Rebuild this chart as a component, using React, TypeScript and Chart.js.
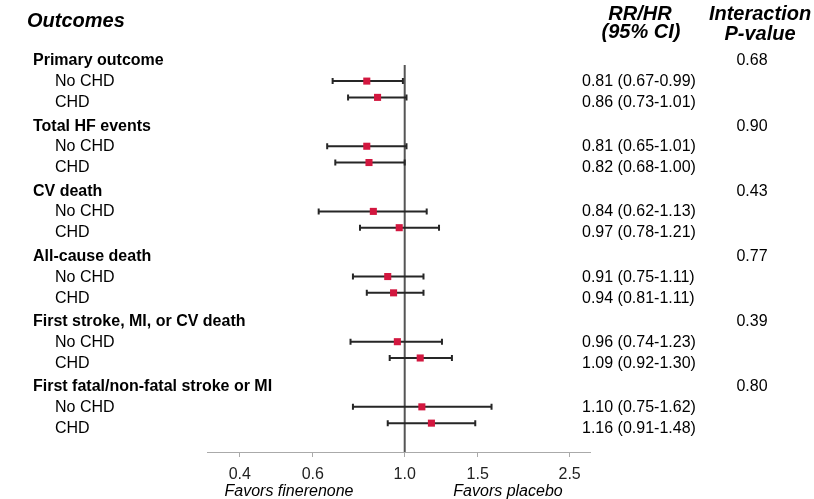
import React, { useEffect, useRef } from "react";
import { Chart, registerables } from "chart.js";

Chart.register(...registerables);

const groups = [
  "Primary outcome",
  "Total HF events",
  "CV death",
  "All-cause death",
  "First stroke, MI, or CV death",
  "First fatal/non-fatal stroke or MI",
];
const subgroups = ["No CHD", "CHD"];
const noChdRR = [0.81, 0.81, 0.84, 0.91, 0.96, 1.1];
const noChdLo = [0.67, 0.65, 0.62, 0.75, 0.74, 0.75];
const noChdHi = [0.99, 1.01, 1.13, 1.11, 1.23, 1.62];
const chdRR = [0.86, 0.82, 0.97, 0.94, 1.09, 1.16];
const chdLo = [0.73, 0.68, 0.78, 0.81, 0.92, 0.91];
const chdHi = [1.01, 1.0, 1.21, 1.11, 1.3, 1.48];
const pInteraction = ["0.68", "0.90", "0.43", "0.77", "0.39", "0.80"];
const xTicks = [0.4, 0.6, 1.0, 1.5, 2.5];

const FONT = "'Liberation Sans', Arial, sans-serif";
const RED = "#D2173F";

// layout offsets within a group (in group units)
const BAR_OFF = [0.307, 0.557];
const TXT_OFF = [0.317, 0.64];

const fmtCI = (rr: number, lo: number, hi: number) =>
  `${rr.toFixed(2)} (${lo.toFixed(2)}-${hi.toFixed(2)})`;

const series = [
  { rr: noChdRR, lo: noChdLo, hi: noChdHi },
  { rr: chdRR, lo: chdLo, hi: chdHi },
];

const forestPlugin = {
  id: "forest",
  beforeDatasetsDraw(chart: any) {
    const { ctx, chartArea, scales } = chart;
    const xs = scales.x;
    const ys = scales.y;
    ctx.save();
    // reference line at 1.0
    const x1 = xs.getPixelForValue(1);
    ctx.strokeStyle = "#555";
    ctx.lineWidth = 2;
    ctx.beginPath();
    ctx.moveTo(x1, chartArea.top);
    ctx.lineTo(x1, chartArea.bottom);
    ctx.stroke();
    // CI whiskers
    ctx.strokeStyle = "#262626";
    ctx.lineWidth = 2;
    series.forEach((s, si) => {
      groups.forEach((_, g) => {
        const y = ys.getPixelForValue(g + BAR_OFF[si]);
        const a = xs.getPixelForValue(s.lo[g]);
        const b = xs.getPixelForValue(s.hi[g]);
        ctx.beginPath();
        ctx.moveTo(a, y);
        ctx.lineTo(b, y);
        ctx.moveTo(a, y - 3);
        ctx.lineTo(a, y + 3);
        ctx.moveTo(b, y - 3);
        ctx.lineTo(b, y + 3);
        ctx.stroke();
      });
    });
    ctx.restore();
  },
  afterDraw(chart: any) {
    const { ctx, scales } = chart;
    const ys = scales.y;
    ctx.save();
    ctx.fillStyle = "#000";
    ctx.textBaseline = "middle";
    groups.forEach((name, g) => {
      const yh = ys.getPixelForValue(g);
      ctx.font = `bold 16px ${FONT}`;
      ctx.textAlign = "left";
      ctx.fillText(name, 33, yh);
      ctx.font = `16px ${FONT}`;
      ctx.textAlign = "center";
      ctx.fillText(pInteraction[g], 752, yh);
      subgroups.forEach((sg, si) => {
        const yt = ys.getPixelForValue(g + TXT_OFF[si]);
        ctx.textAlign = "left";
        ctx.fillText(sg, 55, yt);
        const s = series[si];
        ctx.fillText(fmtCI(s.rr[g], s.lo[g], s.hi[g]), 582, yt);
      });
    });
    // headers
    ctx.textBaseline = "alphabetic";
    ctx.font = `italic bold 20px ${FONT}`;
    ctx.textAlign = "left";
    ctx.fillText("Outcomes", 27, 27);
    ctx.textAlign = "center";
    ctx.fillText("RR/HR", 640, 20);
    ctx.fillText("(95% CI)", 641, 38);
    ctx.fillText("Interaction", 760, 20);
    ctx.fillText("P-value", 760, 40);
    // favors labels
    ctx.font = `italic 16px ${FONT}`;
    ctx.fillText("Favors finerenone", 289, 496);
    ctx.fillText("Favors placebo", 508, 496);
    ctx.restore();
  },
};

export default function App() {
  const ref = useRef<HTMLCanvasElement | null>(null);
  useEffect(() => {
    if (!ref.current) return;
    const chart = new Chart(ref.current, {
      type: "scatter",
      data: {
        datasets: series.map((s, si) => ({
          data: s.rr.map((v, g) => ({ x: v, y: g + BAR_OFF[si] })),
          backgroundColor: RED,
          borderWidth: 0,
          pointStyle: "rect",
          pointRadius: 5,
        })),
      },
      options: {
        animation: false,
        responsive: false,
        maintainAspectRatio: false,
        layout: { padding: { left: 207, right: 224, top: 65, bottom: 0 } },
        plugins: { legend: { display: false }, tooltip: { enabled: false } },
        scales: {
          x: {
            type: "logarithmic",
            bounds: "data",
            min: 1 / 3,
            max: 2.8,
            afterBuildTicks: (scale: any) => {
              scale.ticks = xTicks.map((v) => ({ value: v }));
            },
            afterFit: (scale: any) => {
              scale.height = 47;
            },
            ticks: {
              autoSkip: false,
              maxRotation: 0,
              padding: 8,
              color: "#222",
              font: { family: FONT, size: 16 },
              callback: (v: any) => Number(v).toFixed(1),
            },
            grid: {
              drawOnChartArea: false,
              drawTicks: true,
              tickLength: 5,
              color: "#aaa",
            },
            border: { display: true, color: "#aaa", width: 1 },
          },
          y: {
            type: "linear",
            display: false,
            reverse: true,
            min: 0.06,
            max: 6.0,
          },
        },
      },
      plugins: [forestPlugin],
    });
    return () => chart.destroy();
  }, []);
  return (
    <div style={{ position: "fixed", left: 0, top: 0, width: 814, height: 499, background: "#fff" }}>
      <canvas ref={ref} width={814} height={499} style={{ display: "block" }} />
    </div>
  );
}
